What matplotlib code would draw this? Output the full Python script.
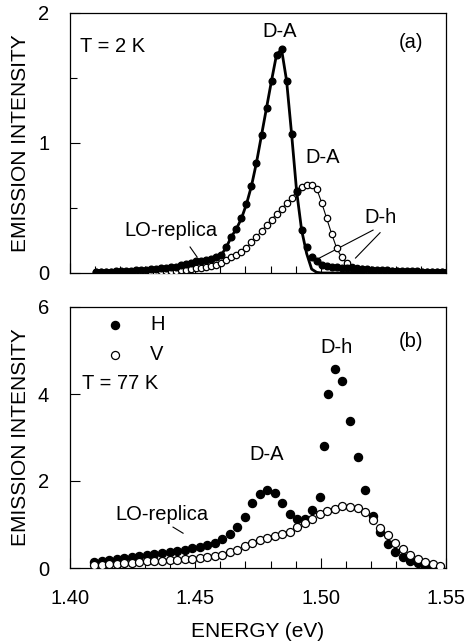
import numpy as np
import matplotlib.pyplot as plt
from matplotlib.ticker import MultipleLocator

plt.rcParams['font.family'] = ['Liberation Sans', 'DejaVu Sans']

# ---- panel (a): T = 2 K, energies on a 2 meV grid ----
energy_a = np.round(1.4104 + 0.002 * np.arange(71), 4)
h_a = [0.010, 0.010, 0.010, 0.010, 0.012, 0.013, 0.015, 0.017, 0.020, 0.022,
       0.025, 0.028, 0.032, 0.036, 0.040, 0.045, 0.050, 0.060, 0.070, 0.080,
       0.090, 0.095, 0.100, 0.105, 0.120, 0.140, 0.200, 0.280, 0.340, 0.420,
       0.530, 0.670, 0.850, 1.060, 1.270, 1.480, 1.680, 1.720, 1.480, 1.070,
       0.630, 0.330, 0.200, 0.120, 0.090, 0.065, 0.055, 0.050, 0.045, 0.042,
       0.040, 0.037, 0.034, 0.031, 0.028, 0.026, 0.024, 0.022, 0.020, 0.018,
       0.016, 0.015, 0.014, 0.013, 0.012, 0.011, 0.010, 0.010, 0.010, 0.010,
       0.010]
v_a = [0.005, 0.005, 0.005, 0.005, 0.006, 0.006, 0.007, 0.007, 0.008, 0.008,
       0.009, 0.010, 0.011, 0.012, 0.013, 0.015, 0.018, 0.021, 0.025, 0.030,
       0.035, 0.040, 0.046, 0.055, 0.065, 0.080, 0.097, 0.120, 0.140, 0.165,
       0.195, 0.235, 0.280, 0.320, 0.370, 0.410, 0.455, 0.495, 0.535, 0.580,
       0.625, 0.665, 0.680, 0.680, 0.650, 0.540, 0.420, 0.300, 0.190, 0.120,
       0.075, 0.050, 0.035, 0.028, 0.024, 0.021, 0.019, 0.017, 0.015, 0.013,
       0.012, 0.011, 0.010, 0.009, 0.008, 0.007, 0.007, 0.006, 0.006, 0.005,
       0.005]
# D-A fit curve: follows H up to the peak edge, then falls off
fit_a = h_a[:41] + [0.330, 0.150, 0.030, 0.005] + [0.0] * 26

# ---- panel (b): T = 77 K, energies on a 3 meV grid ----
energy_v_b = np.round(1.4097 + 0.003 * np.arange(47), 4)
v_b = [0.070, 0.080, 0.090, 0.100, 0.115, 0.125, 0.140, 0.150, 0.160, 0.170,
       0.180, 0.190, 0.200, 0.210, 0.225, 0.245, 0.275, 0.310, 0.360, 0.420,
       0.500, 0.570, 0.640, 0.700, 0.740, 0.780, 0.820, 0.940, 1.030, 1.120,
       1.240, 1.300, 1.350, 1.420, 1.410, 1.370, 1.280, 1.110, 0.910, 0.760,
       0.580, 0.430, 0.310, 0.200, 0.130, 0.085, 0.050]
energy_h_b = np.concatenate([energy_v_b[:31], [1.5013, 1.5029], energy_v_b[32:]])
h_b = [0.140, 0.160, 0.180, 0.200, 0.230, 0.250, 0.270, 0.300, 0.320, 0.340,
       0.370, 0.390, 0.420, 0.450, 0.490, 0.530, 0.580, 0.660, 0.780, 0.940,
       1.170, 1.500, 1.700, 1.800, 1.730, 1.500, 1.230, 1.120, 1.120, 1.330,
       1.640, 2.800, 4.000, 4.570, 4.300, 3.370, 2.560, 1.800, 1.190, 0.820,
       0.550, 0.370, 0.260, 0.170, 0.110, 0.070, 0.040, 0.030]

W, H = 472, 642
fig = plt.figure(figsize=(W / 100, H / 100), dpi=100)
ax_a = fig.add_axes([70 / W, 1 - 273 / H, 376 / W, 260 / H])
ax_b = fig.add_axes([70 / W, 1 - 568 / H, 376 / W, 261 / H])

fs = 14.5

# panel (a)
ax_a.plot(energy_a, fit_a, color='black', lw=2.0, zorder=2)
ax_a.plot(energy_a, v_a, color='black', lw=0.8, marker='o', ms=4.6,
          mfc='white', mec='black', mew=0.9, zorder=3)
ax_a.plot(energy_a, h_a, ls='none', marker='o', ms=4.8, mfc='black',
          mec='black', zorder=4)
ax_a.set_xlim(1.40, 1.55)
ax_a.set_ylim(0, 2)
ax_a.yaxis.set_major_locator(MultipleLocator(1))
ax_a.yaxis.set_minor_locator(MultipleLocator(0.5))
ax_a.xaxis.set_major_locator(MultipleLocator(0.05))
ax_a.xaxis.set_minor_locator(MultipleLocator(0.01))
ax_a.set_xticklabels([])

ax_a.text(1.404, 1.74, 'T = 2 K', fontsize=fs, ha='left', va='center')
ax_a.text(1.5408, 1.77, '(a)', fontsize=fs, ha='right', va='center')
ax_a.text(1.4838, 1.86, 'D-A', fontsize=fs, ha='center', va='center')
ax_a.text(1.5009, 0.89, 'D-A', fontsize=fs, ha='center', va='center')
ax_a.text(1.5237, 0.43, 'D-h', fontsize=fs, ha='center', va='center')
ax_a.text(1.4403, 0.33, 'LO-replica', fontsize=fs, ha='center', va='center')
ax_a.plot([1.4479, 1.4507], [0.20, 0.123], color='black', lw=0.8)
ax_a.plot([1.5209, 1.4995], [0.33, 0.115], color='black', lw=0.8)
ax_a.plot([1.5237, 1.5139], [0.31, 0.115], color='black', lw=0.8)

# panel (b)
ax_b.plot(energy_h_b, h_b, ls='none', marker='o', ms=5.8, mfc='black',
          mec='black', zorder=3)
ax_b.plot(energy_v_b, v_b, ls='none', marker='o', ms=5.8, mfc='white',
          mec='black', mew=0.9, zorder=4)
ax_b.set_xlim(1.40, 1.55)
ax_b.set_ylim(0, 6)
ax_b.yaxis.set_major_locator(MultipleLocator(2))
ax_b.xaxis.set_major_locator(MultipleLocator(0.05))
ax_b.xaxis.set_minor_locator(MultipleLocator(0.01))
ax_b.set_xticks([1.40, 1.45, 1.50, 1.55])
ax_b.set_xticklabels(['1.40', '1.45', '1.50', '1.55'])
ax_b.set_xlabel('ENERGY (eV)', fontsize=fs + 0.5, labelpad=10)

ax_b.plot([1.418], [5.59], ls='none', marker='o', ms=5.8, mfc='black', mec='black')
ax_b.plot([1.418], [4.90], ls='none', marker='o', ms=5.8, mfc='white',
          mec='black', mew=0.9)
ax_b.text(1.4319, 5.59, 'H', fontsize=fs, ha='left', va='center')
ax_b.text(1.4319, 4.90, 'V', fontsize=fs, ha='left', va='center')
ax_b.text(1.4048, 4.25, 'T = 77 K', fontsize=fs, ha='left', va='center')
ax_b.text(1.5408, 5.20, '(b)', fontsize=fs, ha='right', va='center')
ax_b.text(1.5065, 5.06, 'D-h', fontsize=fs, ha='center', va='center')
ax_b.text(1.4786, 2.60, 'D-A', fontsize=fs, ha='center', va='center')
ax_b.text(1.4367, 1.22, 'LO-replica', fontsize=fs, ha='center', va='center')
ax_b.plot([1.4411, 1.4451], [0.94, 0.80], color='black', lw=0.8)

for ax in (ax_a, ax_b):
    for s in ax.spines.values():
        s.set_linewidth(0.9)
    ax.tick_params(which='both', direction='in', top=False, right=False,
                   labelsize=fs)
    ax.tick_params(which='major', length=7, width=0.8)
    ax.tick_params(which='minor', length=5, width=0.8)
    ax.tick_params(axis='y', pad=15)
    ax.tick_params(axis='x', pad=15)
    ax.set_ylabel('EMISSION INTENSITY', fontsize=fs + 0.5, labelpad=6)

fig.savefig('out.png', dpi=100)
